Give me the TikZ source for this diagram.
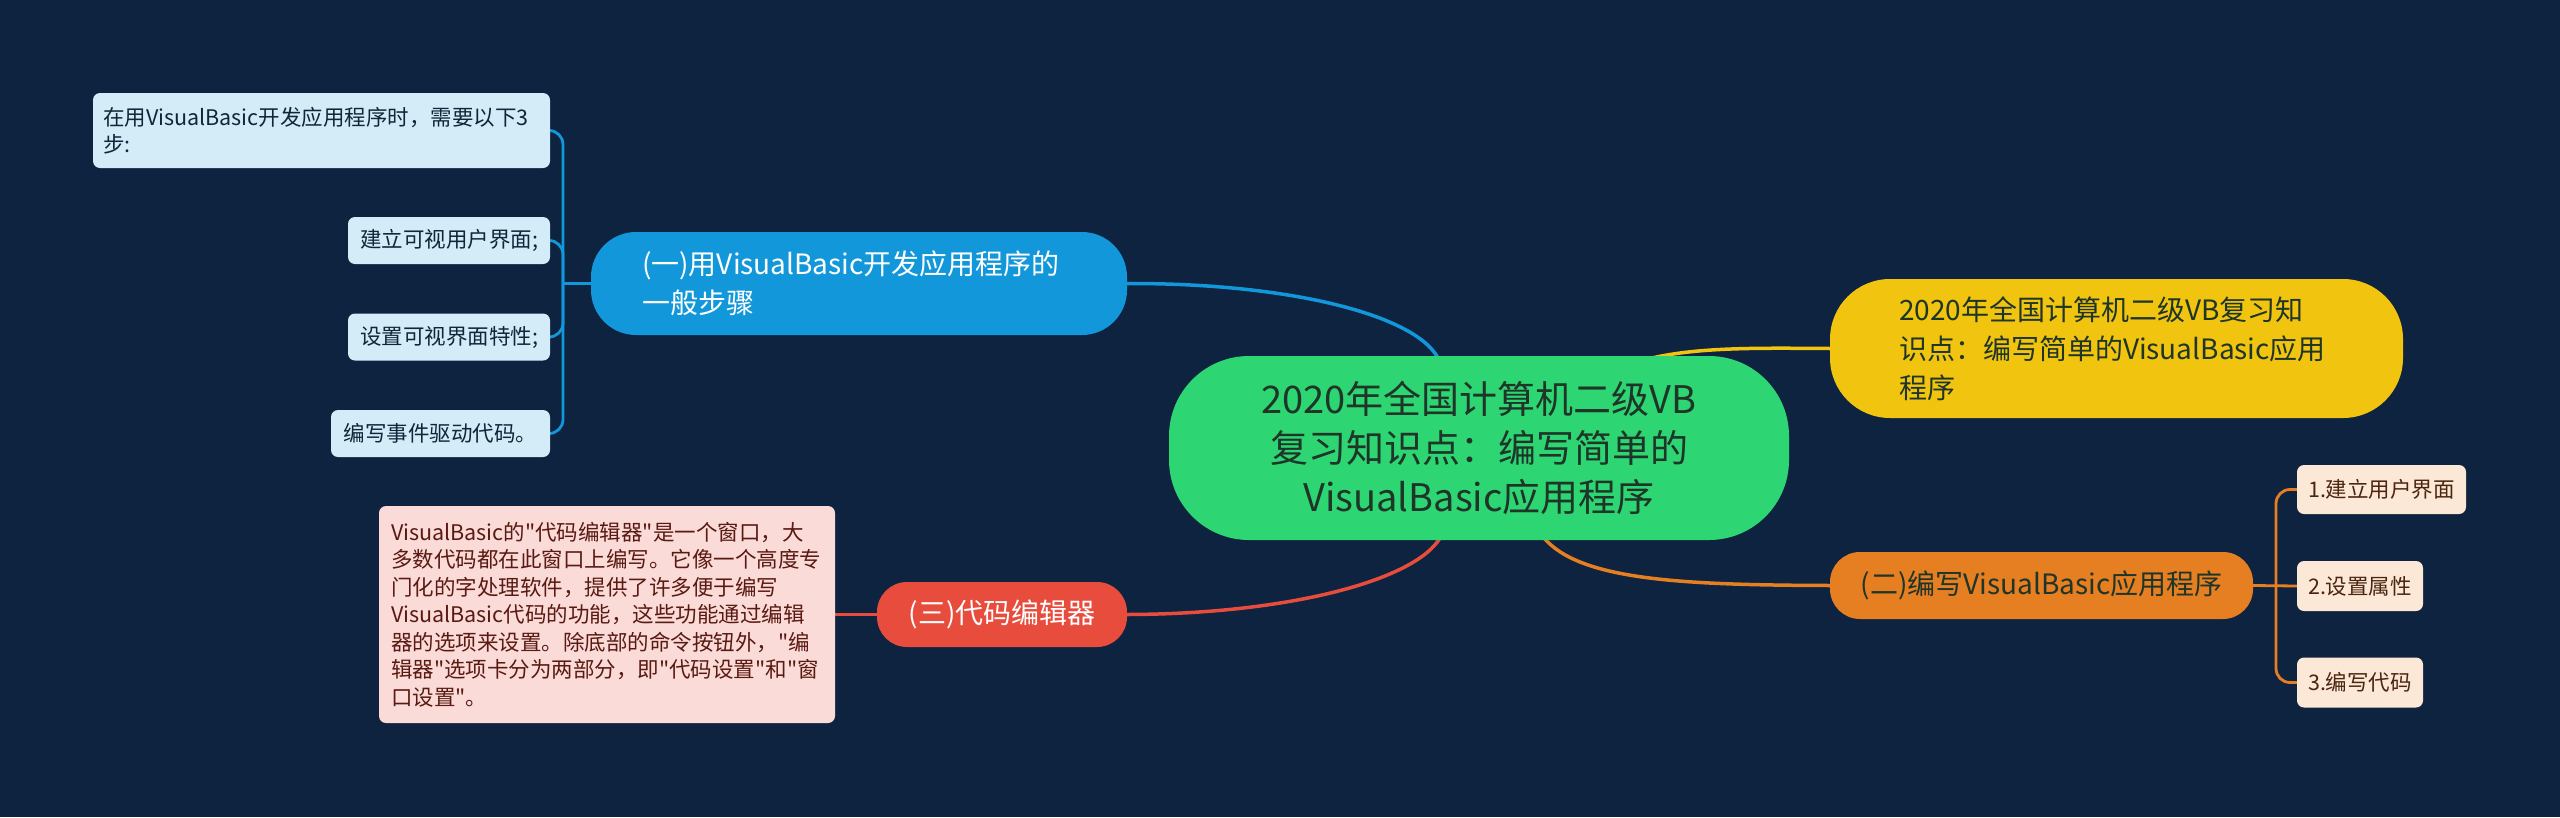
\documentclass[tikz,border=0pt]{standalone}
\usepackage{fontspec}
\setmainfont{Noto Sans CJK SC}[Ligatures=TeXOff]
\usetikzlibrary{backgrounds}
\definecolor{bg}{HTML}{0D2340}
\definecolor{cgreen}{HTML}{2ED573}
\definecolor{cyellow}{HTML}{F1C40F}
\definecolor{cblue}{HTML}{1298DA}
\definecolor{corange}{HTML}{E67E22}
\definecolor{cred}{HTML}{E74C3C}
\definecolor{lblue}{HTML}{D3ECF8}
\definecolor{lcream}{HTML}{FCE8D6}
\definecolor{lpink}{HTML}{FADBD8}
\definecolor{tdark}{HTML}{1E3528}
\definecolor{tblue}{HTML}{12263A}
\definecolor{tbrown}{HTML}{4A2510}
\definecolor{tred}{HTML}{5A1A12}
\tikzset{
  mainnode/.style={inner sep=0pt, font=\fontsize{28}{39}\selectfont},
  leafnode/.style={inner sep=0pt, rounded corners=7pt, font=\fontsize{21.5}{27.5}\selectfont},
  bleaf/.style={leafnode, fill=lblue, text=tblue},
  cleaf/.style={leafnode, fill=lcream, text=tbrown},
  pleaf/.style={leafnode, fill=lpink, text=tred},
  conn/.style={line width=3.5pt, line cap=round},
  subconn/.style={line width=2.8pt},
}
\begin{document}
\begin{tikzpicture}[x=1pt,y=-1pt]
\begin{pgfonlayer}{background}
\fill[bg] (0,0) rectangle (2560,817);
\end{pgfonlayer}
\useasboundingbox (0,0) rectangle (2560,817);

% central
\node[mainnode, fill=cgreen, text=tdark, rounded corners=80pt, minimum width=620pt, minimum height=184pt, align=center, font=\fontsize{38}{49}\selectfont] (center) at (1479,448)
  {2020年全国计算机二级VB\\复习知识点：编写简单的\\VisualBasic应用程序};

% yellow
\node[mainnode, fill=cyellow, text=tdark, rounded corners=60pt, minimum width=573pt, minimum height=139pt, text width=435pt, align=left] (yel) at (2116.5,348.5)
  {2020年全国计算机二级VB复习知\\识点：编写简单的VisualBasic应用\\程序};

% blue
\node[mainnode, fill=cblue, text=white, rounded corners=45pt, minimum width=536pt, minimum height=103pt, text width=434pt, align=left] (blu) at (859,283.5)
  {(一)用VisualBasic开发应用程序的\\一般步骤};

% orange
\node[mainnode, fill=corange, text=tdark, rounded corners=30pt, minimum width=423pt, minimum height=67pt] (ora) at (2041.5,585.5)
  {(二)编写VisualBasic应用程序};

% red
\node[mainnode, fill=cred, text=white, rounded corners=30pt, minimum width=250pt, minimum height=65pt] (red) at (1002,614.5)
  {(三)代码编辑器};

% left blue leaves
\node[bleaf, minimum width=457pt, minimum height=75pt, text width=437pt, align=left] (la) at (321.5,130.5)
  {在用VisualBasic开发应用程序时，需要以下3\\步:};
\node[bleaf, minimum width=202pt, minimum height=47pt] (lb) at (449,240.5) {建立可视用户界面;};
\node[bleaf, minimum width=202pt, minimum height=47pt] (lc) at (449,337) {设置可视界面特性;};
\node[bleaf, minimum width=219pt, minimum height=47pt] (ld) at (440.5,433.5) {编写事件驱动代码。};

% pink leaf
\node[pleaf, minimum width=456pt, minimum height=217pt, text width=432pt, align=left] (le) at (607,614.5)
  {VisualBasic的"代码编辑器"是一个窗口，大\\多数代码都在此窗口上编写。它像一个高度专\\门化的字处理软件，提供了许多便于编写\\VisualBasic代码的功能，这些功能通过编辑\\器的选项来设置。除底部的命令按钮外，"编\\辑器"选项卡分为两部分，即"代码设置"和"窗\\口设置"。};

% right cream leaves
\node[cleaf, minimum width=169pt, minimum height=49pt] (rf) at (2381.5,489.5) {1.建立用户界面};
\node[cleaf, minimum width=126pt, minimum height=50pt] (rg) at (2360,586) {2.设置属性};
\node[cleaf, minimum width=126pt, minimum height=50pt] (rh) at (2360,682.5) {3.编写代码};

\coordinate (bspine) at (563,0);
\coordinate (ospine) at (2276,0);

\begin{pgfonlayer}{background}
% main connectors
\draw[conn, cblue] (blu.east) .. controls (1290,283) and (1415,315) .. (1438,358);
\draw[conn, cred] (red.east) .. controls (1290,614) and (1415,580) .. (1440,538);
\draw[conn, cyellow] (1652,358) .. controls (1700,347) and (1760,348) .. (yel.west);
\draw[conn, corange] (1544,538) .. controls (1580,580) and (1680,585) .. (ora.west);
% blue sub
\draw[subconn, cblue] (blu.west) -- (bspine |- blu.west);
\foreach \n in {la,lb,lc,ld}
  \draw[subconn, cblue] (bspine |- blu.west) [rounded corners=14pt] -- (bspine |- \n.east) -- (\n.east);
% orange sub
\draw[subconn, corange] (ora.east) -- (rg.west);
\foreach \n in {rf,rh}
  \draw[subconn, corange] (ospine |- ora.east) [rounded corners=14pt] -- (ospine |- \n.west) -- (\n.west);
% red sub
\draw[subconn, cred] (red.west) -- (le.east);
\end{pgfonlayer}
\end{tikzpicture}
\end{document}
